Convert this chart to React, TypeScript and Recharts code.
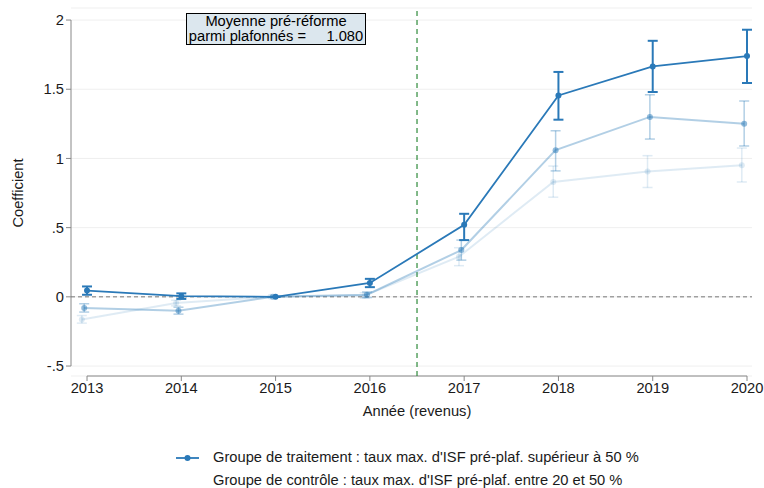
import React from "react";
import {
  LineChart,
  Line,
  XAxis,
  YAxis,
  CartesianGrid,
  ReferenceLine,
  ErrorBar,
} from "recharts";

const years = [2013, 2014, 2015, 2016, 2017, 2018, 2019, 2020];

// groupe de traitement (plein)
const treat = [0.045, 0.005, 0, 0.1, 0.52, 1.455, 1.665, 1.74];
const treatLo = [0.015, -0.015, 0, 0.07, 0.41, 1.28, 1.48, 1.545];
const treatHi = [0.075, 0.025, 0, 0.13, 0.6, 1.625, 1.85, 1.93];

// variante intermédiaire
const mid = [-0.08, -0.1, 0, 0.015, 0.338, 1.06, 1.3, 1.25];
const midLo = [-0.11, -0.125, 0, -0.005, 0.265, 0.91, 1.14, 1.09];
const midHi = [-0.05, -0.075, 0, 0.035, 0.41, 1.2, 1.46, 1.415];

// variante claire
const light = [-0.163, -0.045, 0, 0.01, 0.29, 0.83, 0.905, 0.95];
const lightLo = [-0.19, -0.065, 0, -0.01, 0.225, 0.72, 0.79, 0.83];
const lightHi = [-0.135, -0.025, 0, 0.03, 0.355, 0.945, 1.02, 1.075];

const yTicks = [-0.5, 0, 0.5, 1, 1.5, 2];

const BLUE = "#2a79b8";
const FONT = "'Liberation Sans', Arial, sans-serif";
const FS = 14.7;
const X_MIN = 2012.83;
const X_MAX = 2020.053;
const Y_MIN = -0.572;
const Y_MAX = 2.087;

function build(vals: number[], lo: number[], hi: number[], dodge: number) {
  return years.map((y, i) => ({
    year: y + dodge,
    v: vals[i],
    err: [vals[i] - lo[i], hi[i] - vals[i]],
  }));
}

const treatData = build(treat, treatLo, treatHi, 0);
const midData = build(mid, midLo, midHi, -0.03);
const lightData = build(light, lightLo, lightHi, -0.055);

const fmtY = (v: number) => {
  if (v === -0.5) return "-.5";
  if (v === 0.5) return ".5";
  return String(v);
};

export default function App() {
  const tickStyle = { fontSize: FS, fill: "#1a1a1a", fontFamily: FONT };
  return (
    <div
      style={{
        position: "absolute",
        left: 0,
        top: 0,
        width: 764,
        height: 488,
        overflow: "hidden",
        fontFamily: FONT,
        background: "#fff",
      }}
    >
      <LineChart
        width={764}
        height={488}
        margin={{ top: 8, right: 12, left: 11, bottom: 72 }}
      >
        <CartesianGrid vertical={false} stroke="#efefef" />
        <XAxis
          dataKey="year"
          type="number"
          domain={[X_MIN, X_MAX]}
          ticks={years}
          allowDataOverflow
          axisLine={false}
          tickLine={{ stroke: "#888" }}
          tickSize={5}
          height={40}
          tick={tickStyle}
          interval={0}
        />
        <YAxis
          type="number"
          domain={[Y_MIN, Y_MAX]}
          ticks={yTicks}
          allowDataOverflow
          axisLine={false}
          tickLine={{ stroke: "#888" }}
          tickSize={5}
          width={60}
          tick={tickStyle}
          tickFormatter={fmtY}
        />
        <ReferenceLine
          segment={[{ x: 2013, y: Y_MIN }, { x: 2020, y: Y_MIN }]}
          stroke="#888"
          ifOverflow="visible"
        />
        <ReferenceLine
          segment={[{ x: X_MIN, y: -0.5 }, { x: X_MIN, y: 2 }]}
          stroke="#888"
          ifOverflow="visible"
        />
        <ReferenceLine y={0} stroke="#777" strokeDasharray="4 3" />
        <ReferenceLine x={2016.5} stroke="#2e8b3a" strokeDasharray="5 4" strokeWidth={1.2} />

        <Line
          data={lightData}
          dataKey="v"
          stroke={BLUE}
          strokeOpacity={0.15}
          strokeWidth={2}
          dot={{ r: 3, fill: BLUE, fillOpacity: 0.15, stroke: "none" }}
          isAnimationActive={false}
        >
          <ErrorBar dataKey="err" width={5} stroke={BLUE} strokeOpacity={0.15} strokeWidth={1.5} />
        </Line>
        <Line
          data={midData}
          dataKey="v"
          stroke={BLUE}
          strokeOpacity={0.36}
          strokeWidth={2}
          dot={{ r: 3, fill: BLUE, fillOpacity: 0.5, stroke: "none" }}
          isAnimationActive={false}
        >
          <ErrorBar dataKey="err" width={5} stroke={BLUE} strokeOpacity={0.36} strokeWidth={1.5} />
        </Line>
        <Line
          data={treatData}
          dataKey="v"
          stroke={BLUE}
          strokeWidth={1.8}
          dot={{ r: 3, fill: BLUE, stroke: "none" }}
          isAnimationActive={false}
        >
          <ErrorBar dataKey="err" width={5} stroke={BLUE} strokeWidth={2} />
        </Line>
      </LineChart>

      {/* encadré */}
      <div
        style={{
          position: "absolute",
          left: 186,
          top: 13,
          width: 178,
          height: 30,
          background: "#dce7ee",
          border: "1px solid #000",
          fontSize: FS,
          lineHeight: "15px",
          color: "#000",
          textAlign: "center",
          whiteSpace: "nowrap",
        }}
      >
        <div>Moyenne pré-réforme</div>
        <div style={{ whiteSpace: "pre" }}>parmi plafonnés =     1.080</div>
      </div>

      {/* titres d'axes */}
      <div
        style={{
          position: "absolute",
          left: 18,
          top: 193,
          transform: "translate(-50%, -50%) rotate(-90deg)",
          fontSize: FS,
          color: "#1a1a1a",
          whiteSpace: "nowrap",
        }}
      >
        Coefficient
      </div>
      <div
        style={{
          position: "absolute",
          left: 417,
          top: 411,
          transform: "translate(-50%, -50%)",
          fontSize: FS,
          color: "#1a1a1a",
          whiteSpace: "nowrap",
        }}
      >
        Année (revenus)
      </div>

      {/* légende */}
      <div style={{ position: "absolute", left: 176, top: 446, fontSize: FS, color: "#1a1a1a", lineHeight: "23px", whiteSpace: "nowrap" }}>
        <div style={{ display: "flex", alignItems: "center" }}>
          <svg width={37} height={10}>
            <line x1={0} y1={5} x2={23} y2={5} stroke={BLUE} strokeWidth={1.8} />
            <circle cx={11.5} cy={5} r={3} fill={BLUE} />
          </svg>
          <span>Groupe de traitement : taux max. d'ISF pré-plaf. supérieur à 50 %</span>
        </div>
        <div style={{ paddingLeft: 37 }}>
          Groupe de contrôle : taux max. d'ISF pré-plaf. entre 20 et 50 %
        </div>
      </div>
    </div>
  );
}
